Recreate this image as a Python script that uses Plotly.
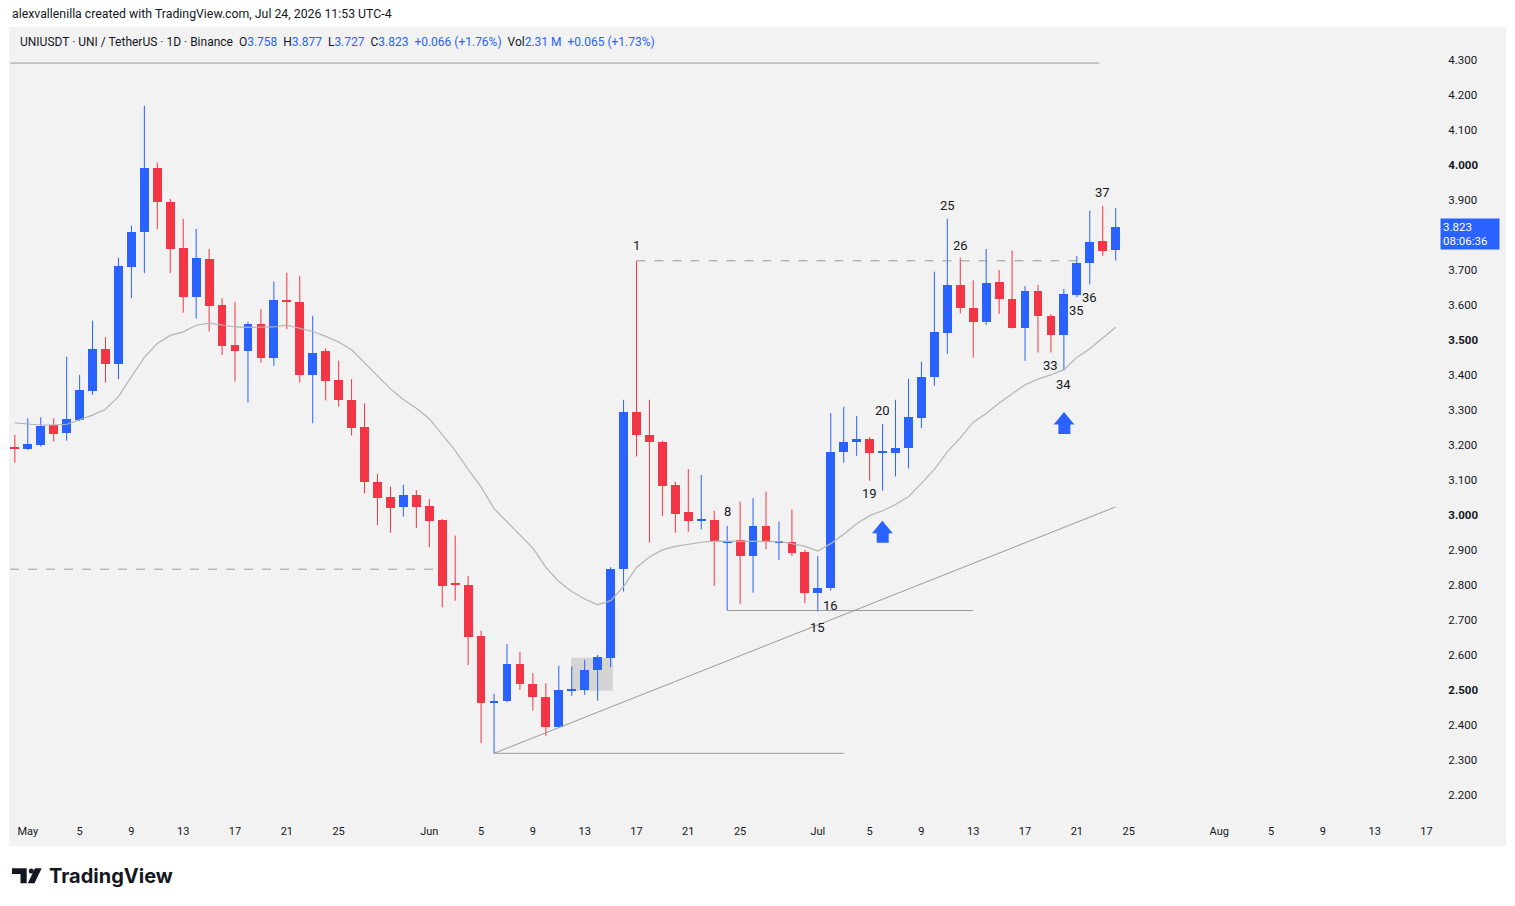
import plotly.graph_objects as go
import pandas as pd

W, H = 1515, 906

# ---------------- data ----------------
dates = pd.date_range("2026-04-30", "2026-07-24", freq="D")

opens = [3.195, 3.188, 3.200, 3.257, 3.233, 3.271, 3.355, 3.474, 3.431, 3.709,
         3.807, 3.991, 3.895, 3.763, 3.622, 3.731, 3.600, 3.486, 3.469, 3.546,
         3.449, 3.614, 3.609, 3.400, 3.467, 3.386, 3.329, 3.252, 3.093, 3.051,
         3.022, 3.057, 3.026, 2.986, 2.806, 2.800, 2.654, 2.462, 2.467, 2.574,
         2.517, 2.479, 2.395, 2.498, 2.500, 2.557, 2.591, 2.845, 3.295, 3.229,
         3.209, 3.086, 3.009, 2.983, 2.986, 2.922, 2.929, 2.884, 2.967, 2.922,
         2.924, 2.895, 2.778, 2.791, 3.179, 3.208, 3.217, 3.177, 3.178, 3.192,
         3.278, 3.393, 3.521, 3.657, 3.592, 3.552, 3.665, 3.617, 3.535, 3.640,
         3.569, 3.514, 3.629, 3.719, 3.782, 3.758]
highs = [3.229, 3.276, 3.279, 3.276, 3.452, 3.400, 3.555, 3.508, 3.735, 3.827,
         4.169, 4.007, 3.903, 3.846, 3.817, 3.760, 3.619, 3.609, 3.552, 3.588,
         3.667, 3.692, 3.683, 3.569, 3.476, 3.441, 3.388, 3.319, 3.117, 3.081,
         3.086, 3.071, 3.045, 2.988, 2.941, 2.826, 2.669, 2.489, 2.631, 2.609,
         2.548, 2.519, 2.569, 2.567, 2.586, 2.600, 2.851, 3.329, 3.726, 3.329,
         3.212, 3.095, 3.131, 3.114, 3.012, 2.969, 3.038, 3.048, 3.067, 2.981,
         3.016, 2.900, 2.883, 3.291, 3.309, 3.283, 3.222, 3.260, 3.329, 3.389,
         3.438, 3.695, 3.846, 3.735, 3.670, 3.760, 3.700, 3.755, 3.654, 3.657,
         3.574, 3.646, 3.740, 3.869, 3.883, 3.877]
lows = [3.149, 3.186, 3.195, 3.210, 3.212, 3.268, 3.343, 3.378, 3.388, 3.619,
        3.691, 3.816, 3.691, 3.578, 3.561, 3.524, 3.457, 3.381, 3.321, 3.435,
        3.426, 3.531, 3.378, 3.262, 3.327, 3.309, 3.227, 3.062, 2.971, 2.949,
        2.995, 2.962, 2.908, 2.736, 2.755, 2.571, 2.348, 2.319, 2.465, 2.500,
        2.441, 2.369, 2.393, 2.483, 2.486, 2.469, 2.565, 2.781, 3.167, 2.921,
        2.997, 2.949, 2.952, 2.959, 2.797, 2.727, 2.746, 2.778, 2.902, 2.871,
        2.883, 2.748, 2.724, 2.784, 3.149, 3.169, 3.098, 3.069, 3.110, 3.133,
        3.248, 3.369, 3.460, 3.576, 3.449, 3.543, 3.574, 3.533, 3.440, 3.464,
        3.464, 3.412, 3.622, 3.659, 3.740, 3.727]
closes = [3.188, 3.203, 3.254, 3.231, 3.273, 3.357, 3.474, 3.431, 3.711, 3.808,
          3.991, 3.895, 3.760, 3.622, 3.733, 3.598, 3.483, 3.467, 3.546, 3.449,
          3.614, 3.607, 3.400, 3.464, 3.384, 3.327, 3.249, 3.093, 3.049, 3.019,
          3.057, 3.024, 2.984, 2.798, 2.800, 2.652, 2.462, 2.469, 2.574, 2.516,
          2.479, 2.395, 2.500, 2.502, 2.557, 2.593, 2.845, 3.295, 3.227, 3.207,
          3.083, 3.003, 2.984, 2.987, 2.924, 2.926, 2.884, 2.967, 2.924, 2.926,
          2.892, 2.778, 2.791, 3.181, 3.208, 3.216, 3.176, 3.181, 3.191, 3.279,
          3.395, 3.524, 3.657, 3.591, 3.552, 3.662, 3.616, 3.535, 3.640, 3.567,
          3.514, 3.631, 3.719, 3.780, 3.755, 3.823]
# gray moving-average line, read point by point
ma_line = [3.263, 3.260, 3.257, 3.257, 3.259, 3.272, 3.285, 3.302, 3.338, 3.395,
           3.450, 3.490, 3.513, 3.523, 3.542, 3.548, 3.543, 3.537, 3.536, 3.536,
           3.537, 3.542, 3.532, 3.524, 3.510, 3.494, 3.472, 3.435, 3.397, 3.360,
           3.330, 3.305, 3.275, 3.230, 3.184, 3.130, 3.080, 3.018, 2.980, 2.943,
           2.905, 2.850, 2.810, 2.781, 2.760, 2.743, 2.755, 2.795, 2.850, 2.880,
           2.900, 2.910, 2.916, 2.922, 2.925, 2.925, 2.925, 2.925, 2.924, 2.924,
           2.918, 2.910, 2.897, 2.918, 2.945, 2.975, 2.998, 3.012, 3.030, 3.052,
           3.090, 3.130, 3.180, 3.220, 3.265, 3.290, 3.320, 3.345, 3.372, 3.388,
           3.400, 3.415, 3.450, 3.475, 3.505, 3.536]

# wave-count labels: (text, date, price)
wave_labels = [("1", "2026-06-17", 3.769), ("8", "2026-06-24", 3.009),
               ("15", "2026-07-01", 2.677), ("16", "2026-07-02", 2.740),
               ("19", "2026-07-05", 3.060), ("20", "2026-07-06", 3.297),
               ("25", "2026-07-11", 3.883), ("26", "2026-07-12", 3.771),
               ("33", "2026-07-19", 3.426), ("34", "2026-07-20", 3.374),
               ("35", "2026-07-21", 3.583), ("36", "2026-07-22", 3.620),
               ("37", "2026-07-23", 3.920)]

# 3.800 is hidden behind the last-price label, as in the reference
y_ticks = [2.2, 2.3, 2.4, 2.5, 2.6, 2.7, 2.8, 2.9, 3.0, 3.1, 3.2,
           3.3, 3.4, 3.5, 3.6, 3.7, 3.9, 4.0, 4.1, 4.2, 4.3]
x_tick_dates = ["2026-05-01", "2026-05-05", "2026-05-09", "2026-05-13", "2026-05-17",
                "2026-05-21", "2026-05-25", "2026-06-01", "2026-06-05", "2026-06-09",
                "2026-06-13", "2026-06-17", "2026-06-21", "2026-06-25", "2026-07-01",
                "2026-07-05", "2026-07-09", "2026-07-13", "2026-07-17", "2026-07-21",
                "2026-07-25", "2026-08-01", "2026-08-05", "2026-08-09", "2026-08-13",
                "2026-08-17"]
x_tick_text = ["May", "5", "9", "13", "17", "21", "25", "Jun", "5", "9", "13", "17",
               "21", "25", "Jul", "5", "9", "13", "17", "21", "25", "Aug", "5", "9",
               "13", "17"]

# drawing levels
top_level = 4.291
prev_level_dash = 2.845
wave1_high = 3.726
base_8_15 = 2.727
base_low = 2.319
trend_end = 3.023
box_lo, box_hi = 2.498, 2.592
last_price = 3.823

UP = "#2962ff"
DOWN = "#f23645"
TXT = "#131722"
FONT = "Roboto"

# ---------------- figure ----------------
def px(x):
    return x / W


def py(y):
    return 1 - y / H


fig = go.Figure()

colors = [UP if c >= o else DOWN for o, c in zip(opens, closes)]

# wicks
for col in (UP, DOWN):
    xs, ys = [], []
    for d, hi, lo, c in zip(dates, highs, lows, colors):
        if c == col:
            xs += [d, d, None]
            ys += [lo, hi, None]
    fig.add_trace(go.Scatter(x=xs, y=ys, mode="lines", line=dict(color=col, width=1),
                             hoverinfo="skip", showlegend=False))

# moving average
fig.add_trace(go.Scatter(x=dates, y=ma_line, mode="lines",
                         line=dict(color="#b4b4b4", width=1.2), hoverinfo="skip",
                         showlegend=False))

# bodies
fig.add_trace(go.Bar(
    x=dates,
    y=[max(abs(c - o), 0.003) for o, c in zip(opens, closes)],
    base=[min(o, c) for o, c in zip(opens, closes)],
    width=0.68 * 86400000,
    marker=dict(color=colors, line=dict(width=0)),
    showlegend=False, hoverinfo="skip"))

x_left = "2026-04-29 15:00"
x_right = "2026-08-18 01:00"

shapes = []
# panel background
shapes.append(dict(type="rect", xref="paper", yref="paper", x0=px(9), x1=px(1506),
                   y0=py(846), y1=py(27), fillcolor="#f2f2f2", line=dict(width=0),
                   layer="below"))
# grey box
shapes.append(dict(type="rect", xref="x", yref="y", x0="2026-06-11 23:00",
                   x1="2026-06-15 04:00", y0=box_lo, y1=box_hi,
                   fillcolor="rgba(175,175,175,0.45)", line=dict(width=0), layer="below"))
LC = "#9a9a9a"
shapes += [
    dict(type="line", xref="x", yref="y", x0=x_left, x1="2026-07-22 18:00",
         y0=top_level, y1=top_level, line=dict(color=LC, width=1)),
    dict(type="line", xref="x", yref="y", x0=x_left, x1="2026-06-02",
         y0=prev_level_dash, y1=prev_level_dash, line=dict(color=LC, width=1, dash="dash")),
    dict(type="line", xref="x", yref="y", x0="2026-06-17", x1="2026-07-21 18:00",
         y0=wave1_high, y1=wave1_high, line=dict(color=LC, width=1, dash="dash")),
    dict(type="line", xref="x", yref="y", x0="2026-06-24", x1="2026-07-13",
         y0=base_8_15, y1=base_8_15, line=dict(color=LC, width=1)),
    dict(type="line", xref="x", yref="y", x0="2026-06-06", x1="2026-07-03",
         y0=base_low, y1=base_low, line=dict(color=LC, width=1)),
    dict(type="line", xref="x", yref="y", x0="2026-06-06", x1="2026-07-24",
         y0=base_low, y1=trend_end, line=dict(color=LC, width=1)),
]


def arrow_path(cx, tip):
    pts = [(cx - 10.3, tip + 12.6), (cx, tip), (cx + 10.4, tip + 12.6),
           (cx + 6.4, tip + 12.6), (cx + 6.4, tip + 22), (cx - 5.6, tip + 22),
           (cx - 5.6, tip + 12.6)]
    s = "M " + " L ".join(f"{px(a):.5f},{py(b):.5f}" for a, b in pts) + " Z"
    return s


for cx, tip in [(882.3, 520.7), (1064, 412)]:
    shapes.append(dict(type="path", xref="paper", yref="paper", path=arrow_path(cx, tip),
                       fillcolor=UP, line=dict(width=0)))

# TradingView logo glyph
logo = [
    [(12, 868.3), (26.7, 868.3), (26.7, 883.3), (20.5, 883.3), (20.5, 874), (12, 874)],
    [(35, 868.3), (41.7, 868.3), (34.5, 883.3), (27.8, 883.3)],
]
for poly in logo:
    s = "M " + " L ".join(f"{px(a):.5f},{py(b):.5f}" for a, b in poly) + " Z"
    shapes.append(dict(type="path", xref="paper", yref="paper", path=s,
                       fillcolor="#131722", line=dict(width=0)))
shapes.append(dict(type="circle", xref="paper", yref="paper", x0=px(28.8), x1=px(33.8),
                   y0=py(873.5), y1=py(868.5), fillcolor="#131722", line=dict(width=0)))

annotations = []
annotations.append(dict(xref="paper", yref="paper", x=px(10), y=py(14), xanchor="left",
                        yanchor="middle", showarrow=False,
                        text="alexvallenilla created with TradingView.com, Jul 24, 2026 11:53 UTC-4",
                        font=dict(family=FONT, size=12.3, color=TXT)))


def b(v):
    return f"<span style='color:{UP}'>{v}</span>"


hdr = ("UNIUSDT · UNI / TetherUS · 1D · Binance  O" + b("3.758") + "  H" + b("3.877") +
       "  L" + b("3.727") + "  C" + b("3.823") + "  " + b("+0.066 (+1.76%)") +
       "  Vol" + b("2.31 M") + "  " + b("+0.065 (+1.73%)"))
annotations.append(dict(xref="paper", yref="paper", x=px(18), y=py(42), xanchor="left",
                        yanchor="middle", showarrow=False, text=hdr,
                        font=dict(family=FONT, size=12, color=TXT)))

for t, d, p in wave_labels:
    annotations.append(dict(xref="x", yref="y", x=d, y=p, text=t, showarrow=False,
                            xanchor="center", yanchor="middle",
                            font=dict(family=FONT, size=13, color=TXT)))

# last price label
annotations.append(dict(xref="paper", yref="paper", x=px(1440), y=py(234), xanchor="left",
                        yanchor="middle", showarrow=False, align="left",
                        text=f"{last_price:.3f}<br>08:06:36", bgcolor=UP, width=54, height=26,
                        borderpad=2, font=dict(family=FONT, size=11.5, color="white")))

# TradingView wordmark
annotations.append(dict(xref="paper", yref="paper", x=px(47), y=py(876), xanchor="left",
                        yanchor="middle", showarrow=False, text="<b>TradingView</b>",
                        font=dict(family="Inter", size=20, color="#131722")))

y_text = [f"<b>{v:.3f}</b>" if abs(v * 2 - round(v * 2)) < 1e-9 else f"{v:.3f}"
          for v in y_ticks]

fig.update_layout(
    width=W, height=H,
    margin=dict(l=0, r=0, t=0, b=0),
    paper_bgcolor="white",
    plot_bgcolor="rgba(0,0,0,0)",
    showlegend=False,
    shapes=shapes,
    annotations=annotations,
    bargap=0,
    xaxis=dict(domain=[px(10), px(1440)], type="date", range=[x_left, x_right],
               showgrid=False, zeroline=False, showline=False,
               tickvals=x_tick_dates, ticktext=x_tick_text,
               ticks="outside", ticklen=4, tickcolor="rgba(0,0,0,0)",
               tickfont=dict(family=FONT, size=11, color=TXT),
               rangeslider=dict(visible=False), fixedrange=True),
    yaxis=dict(domain=[py(817), py(27)], range=[2.137, 4.394], side="right",
               anchor="x", showgrid=False, zeroline=False, showline=False,
               tickvals=y_ticks, ticktext=y_text,
               ticks="outside", ticklen=5, tickcolor="rgba(0,0,0,0)",
               tickfont=dict(family=FONT, size=11.5, color=TXT), fixedrange=True),
)

fig.write_html("out.html")
